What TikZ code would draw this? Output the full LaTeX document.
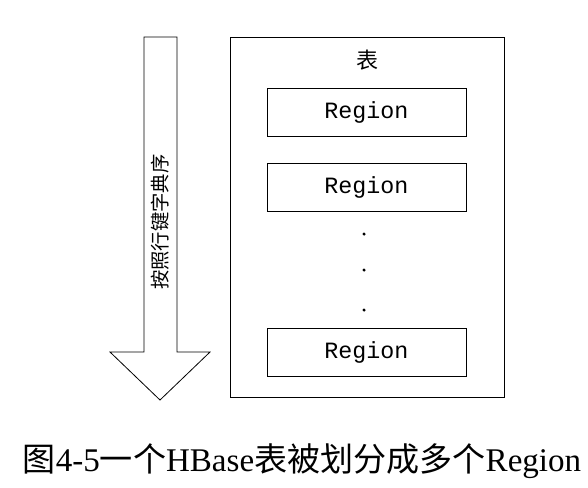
\documentclass[tikz,border=0pt]{standalone}
\usepackage{fontspec}
\setmainfont{Liberation Serif}
\setmonofont{Liberation Mono}
\newfontfamily\cjk{Noto Sans CJK SC}
\usetikzlibrary{positioning}
\usetikzlibrary{calc}

\begin{document}
\begin{tikzpicture}[x=0.75pt, y=-0.75pt, line width=0.6pt,
      regionbox/.style={draw, minimum width=149.25pt, minimum height=36pt,
          font=\ttfamily\fontsize{17.5}{18}\selectfont},
      dotnode/.style={circle, fill, inner sep=0pt, minimum size=2.6pt}]
      \useasboundingbox (0,0) rectangle (588,487);

      % arrow on the left
      \draw (144,37) -- (177,37) -- (177,352) -- (210,352) -- (160,400)
          -- (110,352) -- (144,352) -- cycle;
      \node[rotate=90, font=\cjk\fontsize{14.5}{14.5}\selectfont] (order) at (160,222) {按照行键字典序};

      % table with regions
      \node[draw, minimum width=205.5pt, minimum height=270pt, anchor=north west] (table) at (230,37) {};
      \node[font=\cjk\fontsize{16.5}{16.5}\selectfont] (title) at (367,60) {表};
      \node[regionbox] (r1) at (366.5,112) {Region};
      \node[regionbox] (r2) at (366.5,187) {Region};
      \node[regionbox] (r3) at (366.5,352) {Region};
      \node[dotnode] (d1) at (364,234) {};
      \node[dotnode] (d2) at (364,270) {};
      \node[dotnode] (d3) at (364,310) {};

      % caption
      \node[font=\fontsize{24.8}{24.8}\selectfont] (caption) at (302,461)
          {{\cjk 图}4-5{\cjk 一个}HBase{\cjk 表被划分成多个}Region};
\end{tikzpicture}
\end{document}
